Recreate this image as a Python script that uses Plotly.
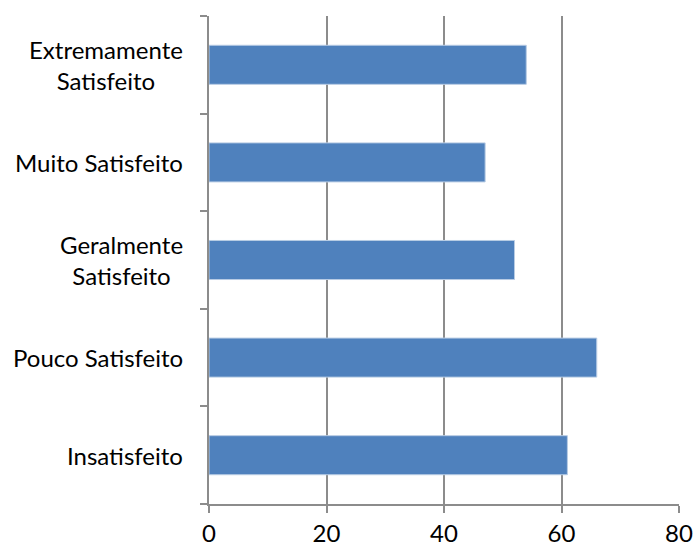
import plotly.graph_objects as go

categories = ["Insatisfeito", "Pouco Satisfeito", "Geralmente<br>Satisfeito", "Muito Satisfeito", "Extremamente<br>Satisfeito"]
values = [61, 66, 52, 47, 54]
x_ticks = [0, 20, 40, 60, 80]

FONT = "Lato"
FSIZE = 24
GRID = "#8c8c8c"

fig = go.Figure(go.Bar(
    x=values, y=categories, orientation="h",
    marker=dict(color="#4F81BD", line=dict(color="#B8CCE4", width=1)),
    width=0.4,
))

for c in categories:
    fig.add_annotation(x=0, xref="paper", xanchor="right", xshift=-24,
                       y=c, yref="y", text=c, showarrow=False, align="center",
                       font=dict(family=FONT, size=FSIZE, color="#000000"))

fig.update_layout(
    width=694, height=550,
    margin=dict(l=209, r=15, t=16, b=46, autoexpand=False),
    plot_bgcolor="white", paper_bgcolor="white",
    showlegend=False,
    bargap=0.6,
)
fig.update_xaxes(
    range=[0, 80], tickvals=x_ticks, showgrid=True, gridcolor=GRID, gridwidth=1.5,
    showline=True, linecolor=GRID, linewidth=1.5,
    ticks="outside", ticklen=7, tickcolor=GRID, tickwidth=1.5,
    tickfont=dict(family=FONT, size=FSIZE, color="#000000"),
    zeroline=False, fixedrange=True, automargin=False,
)
fig.update_yaxes(
    categoryorder="array", categoryarray=categories,
    showticklabels=False, tickson="boundaries",
    showline=True, linecolor=GRID, linewidth=1.5,
    ticks="outside", ticklen=7, tickcolor=GRID, tickwidth=1.5,
    showgrid=False, zeroline=False, automargin=False,
)
fig.write_html("out.html")
